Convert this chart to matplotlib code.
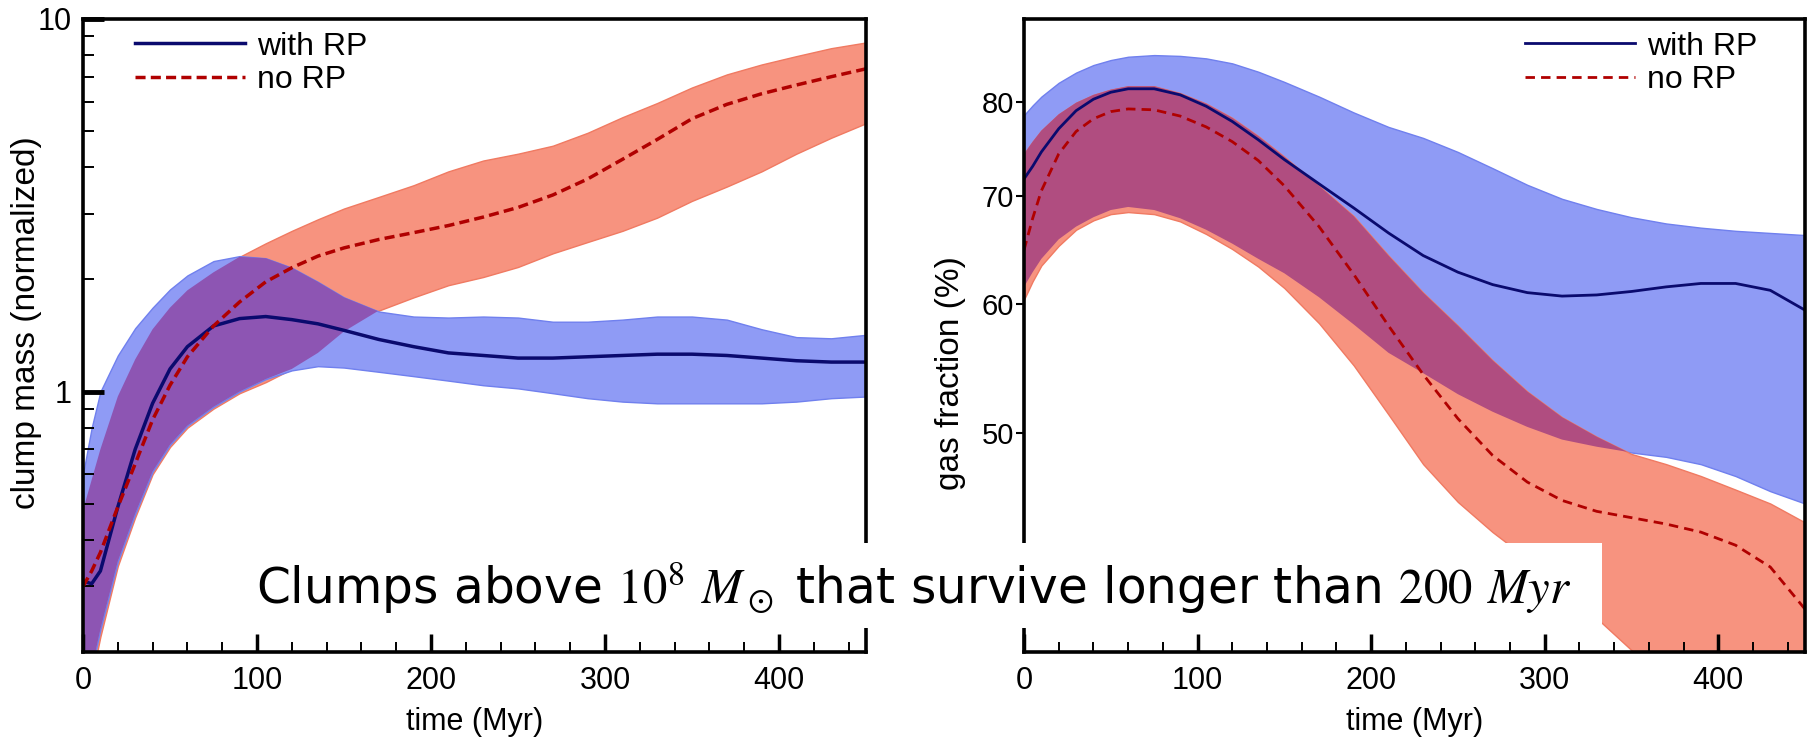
import numpy as np
import matplotlib
matplotlib.use("Agg")
import matplotlib.pyplot as plt
from matplotlib import font_manager
from matplotlib.patches import Rectangle
from matplotlib.ticker import MultipleLocator, FixedLocator, NullLocator, NullFormatter

# time grid (Myr) the curves were read on
t = [0, 5, 10, 20, 30, 40, 50, 60, 75, 90, 105, 120, 135, 150, 170, 190,
     210, 230, 250, 270, 290, 310, 330, 350, 370, 390, 410, 430, 450]

# left panel: clump mass (normalized)
mass_rp = [0.31, 0.305, 0.33, 0.49, 0.70, 0.93, 1.15, 1.32, 1.50, 1.57, 1.59, 1.56, 1.52, 1.46, 1.38,
           1.32, 1.27, 1.25, 1.23, 1.23, 1.24, 1.25, 1.26, 1.26, 1.25, 1.23, 1.21, 1.20, 1.20]
mass_rp_hi = [0.60, 0.80, 1.00, 1.25, 1.48, 1.68, 1.88, 2.05, 2.24, 2.31, 2.28, 2.15, 1.97, 1.79, 1.64,
              1.59, 1.58, 1.59, 1.58, 1.54, 1.54, 1.56, 1.59, 1.59, 1.56, 1.47, 1.40, 1.39, 1.42]
mass_rp_lo = [0.13, 0.18, 0.23, 0.35, 0.47, 0.61, 0.72, 0.81, 0.91, 1.00, 1.08, 1.14, 1.17, 1.16, 1.13,
              1.10, 1.07, 1.04, 1.02, 0.99, 0.96, 0.94, 0.93, 0.93, 0.93, 0.93, 0.94, 0.96, 0.97]
mass_norp = [0.30, 0.33, 0.37, 0.49, 0.64, 0.84, 1.04, 1.24, 1.50, 1.74, 1.97, 2.15, 2.31, 2.43, 2.56,
             2.67, 2.79, 2.94, 3.12, 3.37, 3.72, 4.20, 4.75, 5.40, 5.90, 6.30, 6.65, 7.00, 7.35]
mass_norp_hi = [0.48, 0.58, 0.70, 0.97, 1.22, 1.47, 1.68, 1.87, 2.09, 2.30, 2.50, 2.70, 2.90, 3.10, 3.33,
                3.58, 3.90, 4.17, 4.35, 4.57, 4.95, 5.45, 5.95, 6.55, 7.10, 7.55, 7.95, 8.35, 8.65]
mass_norp_lo = [0.12, 0.17, 0.22, 0.34, 0.46, 0.60, 0.71, 0.80, 0.90, 0.99, 1.06, 1.15, 1.27, 1.45, 1.65,
                1.79, 1.93, 2.03, 2.16, 2.35, 2.52, 2.70, 2.93, 3.25, 3.55, 3.90, 4.35, 4.80, 5.25]

# right panel: gas fraction (%)
gas_rp = [71.7, 73.0, 74.5, 77.0, 79.0, 80.3, 81.1, 81.5, 81.5, 80.8, 79.5, 77.8, 75.8, 73.7, 71.2,
          68.8, 66.4, 64.3, 62.8, 61.7, 61.0, 60.7, 60.8, 61.1, 61.5, 61.8, 61.8, 61.2, 59.5]
gas_rp_hi = [78.5, 79.6, 80.6, 82.2, 83.4, 84.3, 84.9, 85.3, 85.5, 85.4, 85.1, 84.5, 83.5, 82.3, 80.6,
             78.8, 77.2, 76.0, 74.5, 72.8, 71.1, 69.7, 68.7, 67.9, 67.3, 66.9, 66.6, 66.4, 66.2]
gas_rp_lo = [61.5, 62.8, 64.0, 65.8, 67.0, 67.9, 68.6, 68.9, 68.6, 67.8, 66.7, 65.4, 64.0, 62.7, 60.6,
             58.3, 56.0, 54.4, 52.8, 51.5, 50.4, 49.5, 49.0, 48.6, 48.3, 47.8, 47.0, 46.0, 45.2]
gas_norp = [64.8, 67.8, 70.5, 74.3, 76.7, 78.1, 78.9, 79.2, 79.1, 78.4, 77.2, 75.6, 73.6, 71.0, 67.0,
            62.6, 58.2, 54.3, 51.0, 48.4, 46.6, 45.4, 44.7, 44.3, 43.9, 43.4, 42.6, 41.3, 38.9]
gas_norp_hi = [74.3, 75.6, 76.8, 78.6, 79.9, 80.8, 81.4, 81.8, 81.8, 81.0, 79.8, 78.2, 76.2, 74.0, 71.0,
               68.0, 64.3, 61.0, 58.2, 55.4, 53.0, 51.1, 49.7, 48.5, 47.8, 47.0, 46.1, 45.2, 44.0]
gas_norp_lo = [60.4, 62.0, 63.4, 65.2, 66.7, 67.6, 68.2, 68.4, 68.2, 67.5, 66.3, 64.9, 63.3, 61.4, 58.4,
               55.0, 51.3, 47.8, 45.3, 43.4, 41.8, 40.1, 38.4, 36.7, 35.2, 34.0, 33.0, 32.0, 31.0]

labels = ["with RP", "no RP"]
caption = r"Clumps above $10^8$ $M_\odot$ that survive longer than $200$ $Myr$"

# colours
blue_fill = "#8f9bf5"
red_fill = "#f7937f"
blue_edge = "#7080ee"
red_edge = "#f07a62"
purple_left = "#8d55b3"
purple_right = "#b04d80"
blue_line = "#0a0a6e"
red_line = "#b00000"

names = {f.name for f in font_manager.fontManager.ttflist}
narrow = "Liberation Sans Narrow" if "Liberation Sans Narrow" in names else "Liberation Sans"
plt.rcParams["font.family"] = narrow
plt.rcParams["mathtext.fontset"] = "stix"

W, H = 1812, 745


def px_box(x0, y0, x1, y1):
    return [x0 / W, 1 - y1 / H, (x1 - x0) / W, (y1 - y0) / H]


fig = plt.figure(figsize=(W / 100, H / 100), dpi=100)
ax1 = fig.add_axes(px_box(83, 19, 866, 652))
ax2 = fig.add_axes(px_box(1024, 19, 1805, 652))


def bands(ax, lo1, hi1, lo2, hi2, over_col, first_red):
    lo1, hi1, lo2, hi2 = map(np.asarray, (lo1, hi1, lo2, hi2))
    if first_red:
        ax.fill_between(t, lo2, hi2, facecolor=red_fill, edgecolor=red_edge, lw=1, zorder=1)
        ax.fill_between(t, lo1, hi1, facecolor=blue_fill, edgecolor=blue_edge, lw=1, zorder=1.1)
    else:
        ax.fill_between(t, lo1, hi1, facecolor=blue_fill, edgecolor=blue_edge, lw=1, zorder=1)
        ax.fill_between(t, lo2, hi2, facecolor=red_fill, edgecolor=red_edge, lw=1, zorder=1.1)
    lo = np.maximum(lo1, lo2)
    hi = np.minimum(hi1, hi2)
    ax.fill_between(t, lo, hi, where=hi > lo, interpolate=True,
                    facecolor=over_col, edgecolor="none", zorder=1.2)


bands(ax1, mass_rp_lo, mass_rp_hi, mass_norp_lo, mass_norp_hi, purple_left, True)
ax1.plot(t, mass_rp, color=blue_line, lw=2.5, zorder=3, label=labels[0])
ax1.plot(t, mass_norp, color=red_line, lw=2.5, dashes=(2.9, 1.5), zorder=3, label=labels[1])

bands(ax2, gas_rp_lo, gas_rp_hi, gas_norp_lo, gas_norp_hi, purple_right, False)
ax2.plot(t, gas_rp, color=blue_line, lw=2.0, zorder=3, label=labels[0])
ax2.plot(t, gas_norp, color=red_line, lw=2.0, dashes=(3.4, 2.2), zorder=3, label=labels[1])

for ax in (ax1, ax2):
    ax.set_xlim(0, 450)
    ax.set_yscale("log")
    for s in ax.spines.values():
        s.set_linewidth(2.6)
        s.set_zorder(5)
    ax.xaxis.set_major_locator(MultipleLocator(100))
    ax.xaxis.set_minor_locator(MultipleLocator(20))
    ax.tick_params(axis="x", which="major", direction="in", length=13, width=2.5,
                   labelsize=22, pad=10)
    ax.tick_params(axis="x", which="minor", direction="in", length=7, width=1.4)
    ax.set_xlabel("time (Myr)", fontsize=22, family="Liberation Sans", va="center")
    ax.xaxis.set_label_coords(0.5, -70 / 633)

# left axis: log mass
ax1.set_ylim(0.2, 10)
ax1.yaxis.set_major_locator(FixedLocator([1, 10]))
ax1.set_yticklabels(["1", "10"])
ax1.yaxis.set_minor_locator(FixedLocator([0.2, 0.3, 0.4, 0.5, 0.6, 0.7, 0.8, 0.9,
                                          2, 3, 4, 5, 6, 7, 8, 9]))
ax1.yaxis.set_minor_formatter(NullFormatter())
ax1.tick_params(axis="y", which="major", direction="in", length=15, width=3.5,
                labelsize=22, pad=8)
ax1.tick_params(axis="y", which="minor", direction="in", length=8, width=1.4)
ax1.set_ylabel("clump mass (normalized)", fontsize=24, family="Liberation Sans")
ax1.yaxis.set_label_coords(-41 / 783, 0.52)

# right axis: log gas fraction
ax2.set_ylim(36.6, 90)
ax2.yaxis.set_major_locator(FixedLocator([50, 60, 70, 80]))
ax2.set_yticklabels(["50", "60", "70", "80"])
ax2.yaxis.set_minor_locator(NullLocator())
ax2.tick_params(axis="y", which="major", direction="out", length=6, width=1.5,
                labelsize=21, pad=1)
ax2.set_ylabel("gas fraction (%)", fontsize=24, family="Liberation Sans")
ax2.yaxis.set_label_coords(-58 / 781, 0.44)

ax1.legend(loc="upper left", bbox_to_anchor=((135 - 83) / 783, 0.98), frameon=False,
           fontsize=23, handlelength=3.45, handletextpad=0.38, labelspacing=0.1,
           borderpad=0, borderaxespad=0)
ax2.legend(loc="upper left", bbox_to_anchor=((1525 - 1024) / 781, 0.98), frameon=False,
           fontsize=23, handlelength=3.45, handletextpad=0.38, labelspacing=0.1,
           borderpad=0, borderaxespad=0)

# white caption box laid over both panels
fig.patches.append(Rectangle((236 / W, 1 - 628 / H), (1602 - 236) / W, (628 - 543) / H,
                             transform=fig.transFigure, facecolor="white",
                             edgecolor="none", zorder=10))
fig.text(256 / W, 1 - 604 / H, caption, fontsize=35, family="DejaVu Sans",
         ha="left", va="baseline", zorder=11)

fig.savefig("out.png", dpi=100)
